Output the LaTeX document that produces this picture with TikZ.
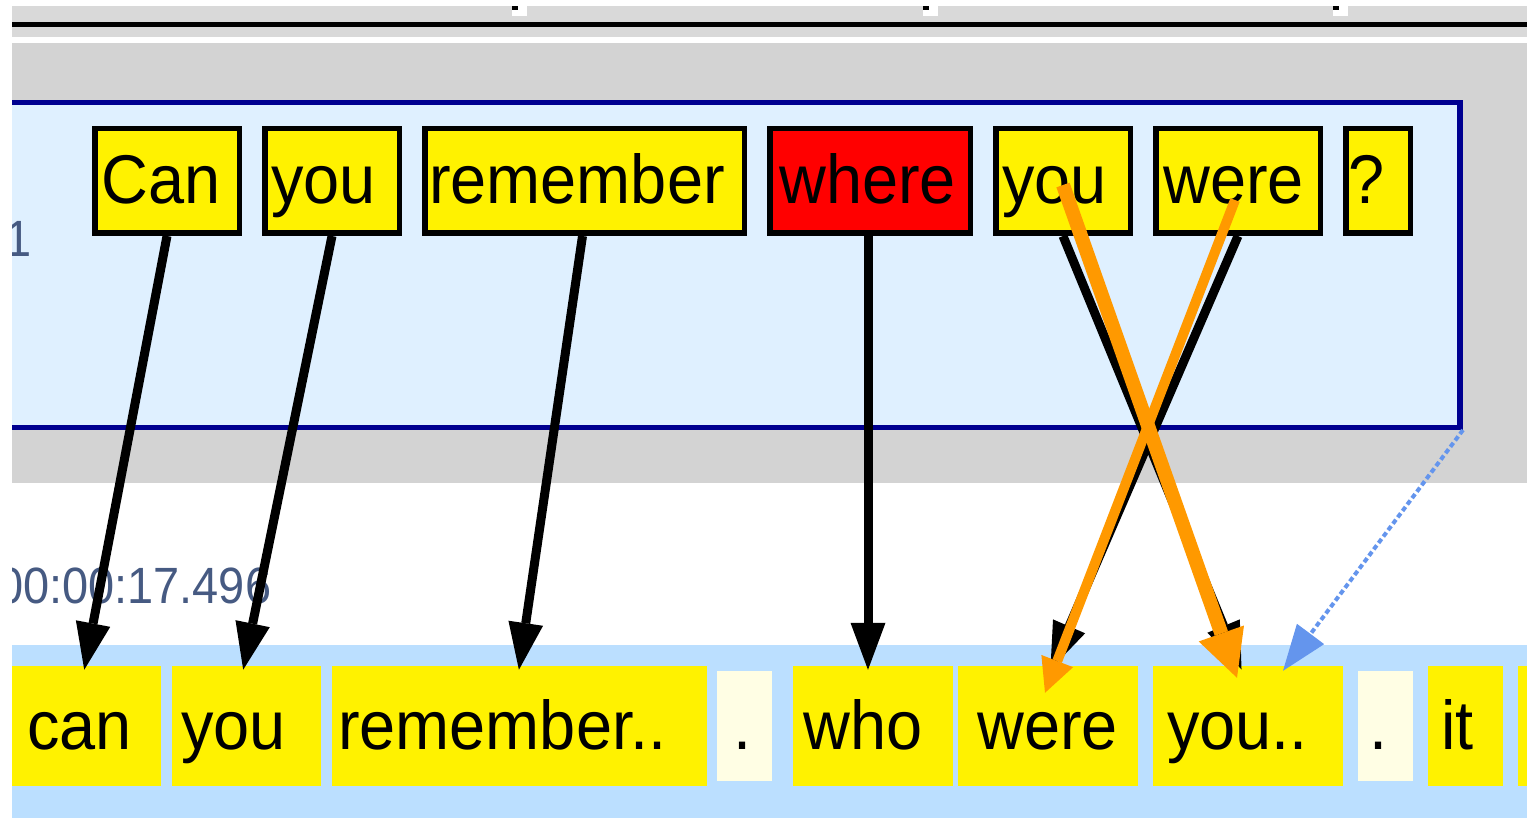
\documentclass[tikz,border=0pt]{standalone}
\usepackage{fontspec}
\setmainfont{Liberation Sans}
\newfontfamily\wordfont[FakeStretch=0.94]{Liberation Sans}
\newfontfamily\stampfont[FakeStretch=0.92]{Liberation Sans}
\usetikzlibrary{arrows.meta,calc}
\definecolor{panelblue}{RGB}{223,240,255}
\definecolor{navyline}{RGB}{0,0,144}
\definecolor{bandblue}{RGB}{187,223,255}
\definecolor{grayA}{RGB}{217,217,217}
\definecolor{grayB}{RGB}{211,211,211}
\definecolor{creamfill}{RGB}{255,254,228}
\definecolor{orangeA}{RGB}{255,153,0}
\definecolor{dotblue}{RGB}{100,149,237}
\definecolor{tsgray}{RGB}{70,90,130}
\begin{document}
\begin{tikzpicture}[x=1pt,y=-1pt,
  topbox/.style={draw=black, line width=5.5pt, fill=yellow, minimum height=104.5pt, inner sep=0pt},
  botbox/.style={fill=yellow, draw=none, minimum height=120pt, inner sep=0pt},
  creambox/.style={fill=creamfill, draw=none, minimum height=110pt, inner sep=0pt},
  word/.style={anchor=base west, inner sep=0pt, text=black, font=\wordfont\fontsize{69}{69}\selectfont},
  smalltext/.style={anchor=base west, inner sep=0pt, text=tsgray, font=\stampfont\fontsize{51}{51}\selectfont},
  link/.style={draw=black, line width=9pt, -{Triangle[length=47pt,width=35pt,line width=0pt]}, shorten >=-4pt},
  bluelink/.style={draw=dotblue, line width=4pt, dash pattern=on 5pt off 3pt, -{Triangle[length=46pt,width=34pt,line width=0pt]}},
  orangethick/.style={draw=orangeA, line width=14pt, -{Triangle[length=47pt,width=48pt,line width=0pt]}},
  orangethin/.style={draw=orangeA, line width=10pt, -{Triangle[length=34pt,width=34pt,line width=0pt]}}
]
\useasboundingbox (0,0) rectangle (1527,818);
\begin{scope}
\clip (12,6) rectangle (1527,818);
% backgrounds
\fill[grayA] (12,6) rectangle (1527,37);
\fill[black] (12,22) rectangle (1527,27);
\fill[white] (12,37) rectangle (1527,43);
\fill[grayB] (12,43) rectangle (1527,483);
\fill[bandblue] (12,645) rectangle (1527,818);
% ticks on the ruler
\foreach \tx in {512,923,1333} {
  \fill[white] (\tx,6) rectangle ++(15,10);
  \fill[black] (\tx,6) rectangle ++(6,4);
}
% panel
\node[draw=navyline, line width=5.5pt, fill=panelblue, minimum width=1510.25pt, minimum height=324.5pt, inner sep=0pt] (panel) at (705.1,265) {};
\node[smalltext] (lbl) at (5,257) {1};
% top words
\node[topbox, minimum width=144.5pt] (t1) at (167,181) {};
\node[topbox, minimum width=134.5pt] (t2) at (332,181) {};
\node[topbox, minimum width=319.5pt] (t3) at (584.5,181) {};
\node[topbox, fill=red, minimum width=200.5pt] (t4) at (870,181) {};
\node[topbox, minimum width=134.5pt] (t5) at (1063,181) {};
\node[topbox, minimum width=164.5pt] (t6) at (1238,181) {};
\node[topbox, minimum width=64.5pt] (t7) at (1378,181) {};
\node[word] (t1w) at (101,204) {Can};
\node[word] (t2w) at (271,204) {you};
\node[word] (t3w) at (429,204) {remember};
\node[word] (t4w) at (779,204) {where};
\node[word] (t5w) at (1002,204) {you};
\node[word] (t6w) at (1163,204) {were};
\node[word] (t7w) at (1348,204) {?};
% bottom words
\node[botbox, minimum width=152pt] (b1) at (85,726) {};
\node[botbox, minimum width=149pt] (b2) at (246.5,726) {};
\node[botbox, minimum width=375pt] (b3) at (519.5,726) {};
\node[creambox, minimum width=55pt] (b4) at (744.5,726) {};
\node[botbox, minimum width=160pt] (b5) at (873,726) {};
\node[botbox, minimum width=180pt] (b6) at (1048,726) {};
\node[botbox, minimum width=190pt] (b7) at (1248,726) {};
\node[creambox, minimum width=55pt] (b8) at (1385.5,726) {};
\node[botbox, minimum width=75pt] (b9) at (1465.5,726) {};
\node[botbox, minimum width=42pt] (b10) at (1539,726) {};
\node[word] (b1w) at (27,749) {can};
\node[word] (b2w) at (181,749) {you};
\node[word] (b3w) at (338,749) {remember..};
\node[word] (b4w) at (733,749) {.};
\node[word] (b5w) at (803,749) {who};
\node[word] (b6w) at (977,749) {were};
\node[word] (b7w) at (1167,749) {you..};
\node[word] (b8w) at (1369,749) {.};
\node[word] (b9w) at (1441,749) {it};
% time stamp
\node[smalltext] (ts) at (-3,603) {00:00:17.496};
% black links
\draw[link] (t1.south) -- (b1.north);
\draw[link] (t2.south) -- ([xshift=-2.5pt]b2.north);
\draw[link] ([xshift=-2pt]t3.south) -- (b3.north);
\draw[link] ([xshift=-2pt]t4.south) -- ([xshift=-5pt]b5.north);
\draw[link] (t5.south) -- ([xshift=-8pt]b7.north);
\draw[link] (t6.south) -- ([xshift=4pt]b6.north);
% dotted blue link
\draw[bluelink] (panel.south east) -- ([xshift=35pt,yshift=-5pt]b7.north);
% orange links
\draw[orangethin] ([xshift=-3pt,yshift=-19pt]t6.center) -- ([xshift=-3pt,yshift=-27pt]b6.north);
\draw[orangethick] ([yshift=-4pt]t5.center) -- ([xshift=-11pt,yshift=-12pt]b7.north);
\end{scope}
\end{tikzpicture}
\end{document}
